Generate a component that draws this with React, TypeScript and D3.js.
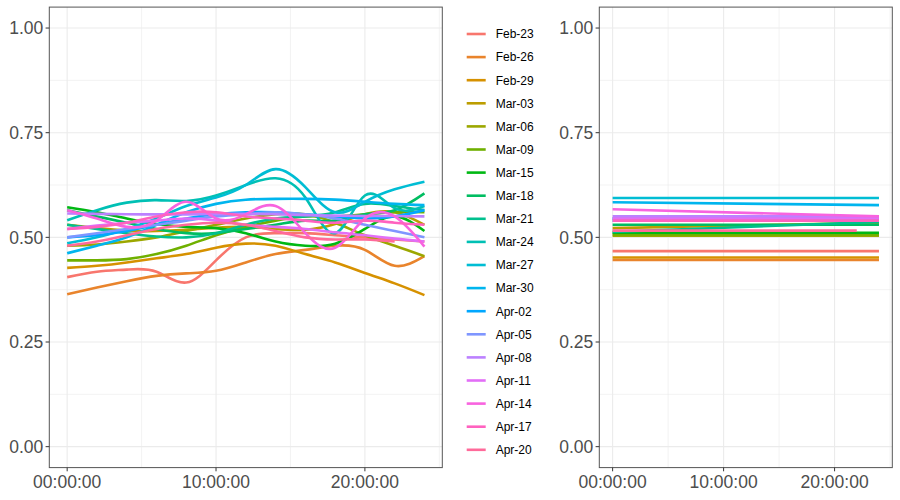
import React from 'react';
import * as d3 from 'd3';

// hours of day at which the smoothed curves were read
const hours = [0, 2, 4, 6, 8, 10, 12, 14, 16, 18, 20, 22, 24];

const dates = [
  "Feb-23", "Feb-26", "Feb-29", "Mar-03", "Mar-06", "Mar-09", "Mar-15", "Mar-18",
  "Mar-21", "Mar-24", "Mar-27", "Mar-30", "Apr-02", "Apr-05", "Apr-08", "Apr-11",
  "Apr-14", "Apr-17", "Apr-20"
];

// left panel: smoothed share by time of day
const feb23 = [0.405, 0.418, 0.423, 0.418, 0.392, 0.445, 0.50, 0.51, 0.51, 0.505, 0.50, 0.495, 0.49];
const feb26 = [0.364, 0.38, 0.395, 0.408, 0.414, 0.42, 0.44, 0.46, 0.47, 0.48, 0.47, 0.432, 0.455];
const feb29 = [0.427, 0.432, 0.44, 0.45, 0.46, 0.475, 0.485, 0.48, 0.46, 0.44, 0.415, 0.39, 0.362];
const mar03 = [0.53, 0.522, 0.516, 0.515, 0.518, 0.523, 0.525, 0.52, 0.518, 0.532, 0.555, 0.56, 0.53];
const mar06 = [0.48, 0.483, 0.49, 0.50, 0.515, 0.53, 0.545, 0.555, 0.555, 0.535, 0.505, 0.48, 0.455];
const mar09 = [0.445, 0.445, 0.448, 0.46, 0.48, 0.505, 0.525, 0.54, 0.55, 0.55, 0.555, 0.56, 0.56];
const mar15 = [0.572, 0.56, 0.545, 0.532, 0.525, 0.522, 0.51, 0.49, 0.48, 0.485, 0.52, 0.55, 0.515];
const mar18 = [0.565, 0.55, 0.535, 0.52, 0.51, 0.51, 0.52, 0.53, 0.54, 0.54, 0.555, 0.565, 0.605];
const mar21 = [0.53, 0.52, 0.51, 0.502, 0.50, 0.51, 0.53, 0.545, 0.55, 0.56, 0.58, 0.575, 0.565];
const mar24 = [0.541, 0.565, 0.583, 0.589, 0.587, 0.60, 0.625, 0.641, 0.595, 0.51, 0.60, 0.57, 0.575];
const mar27 = [0.486, 0.50, 0.52, 0.545, 0.575, 0.595, 0.625, 0.663, 0.62, 0.56, 0.585, 0.615, 0.633];
const mar30 = [0.462, 0.48, 0.50, 0.53, 0.56, 0.58, 0.59, 0.592, 0.592, 0.59, 0.585, 0.58, 0.577];
const apr02 = [0.50, 0.505, 0.515, 0.53, 0.545, 0.555, 0.56, 0.56, 0.555, 0.55, 0.545, 0.55, 0.565];
const apr05 = [0.50, 0.51, 0.52, 0.53, 0.54, 0.55, 0.555, 0.56, 0.555, 0.545, 0.53, 0.515, 0.50];
const apr08 = [0.557, 0.556, 0.555, 0.555, 0.555, 0.556, 0.556, 0.555, 0.553, 0.552, 0.551, 0.551, 0.55];
const apr11 = [0.52, 0.528, 0.535, 0.54, 0.545, 0.54, 0.53, 0.525, 0.52, 0.512, 0.505, 0.497, 0.49];
const apr14 = [0.565, 0.545, 0.525, 0.54, 0.585, 0.545, 0.555, 0.575, 0.51, 0.475, 0.545, 0.55, 0.478];
const apr17 = [0.52, 0.525, 0.535, 0.55, 0.56, 0.56, 0.55, 0.545, 0.54, 0.535, 0.54, 0.535, 0.53];
const apr20 = [0.48, 0.49, 0.505, 0.52, 0.53, 0.535, 0.53, 0.515, 0.50, 0.495, 0.495, 0.49];

const seriesValues = [
  feb23, feb26, feb29, mar03, mar06, mar09, mar15, mar18, mar21, mar24,
  mar27, mar30, apr02, apr05, apr08, apr11, apr14, apr17, apr20
];

// right panel: linear fit, value at start and end of each day
const fitStart = [0.467, 0.446, 0.452, 0.522, 0.504, 0.507, 0.511, 0.53, 0.513, 0.545,
  0.594, 0.584, 0.54, 0.545, 0.55, 0.545, 0.567, 0.54, 0.516];
const fitEnd = [0.467, 0.446, 0.452, 0.535, 0.504, 0.507, 0.511, 0.53, 0.537, 0.545,
  0.594, 0.577, 0.54, 0.545, 0.55, 0.545, 0.55, 0.54, 0.516];

const yTicks = [0, 0.25, 0.5, 0.75, 1];
const yMinor = [0.125, 0.375, 0.625, 0.875];
const xTicks = [0, 10, 20];
const xMinor = [5, 15, 25];

// ggplot-style hue palette (polar LUV, c=100, l=65)
function hueColor(h: number): string {
  const l = 65, c = 100;
  const Xn = 95.047, Yn = 100, Zn = 108.883;
  const Y = Yn * Math.pow((l + 16) / 116, 3);
  const den = Xn + 15 * Yn + 3 * Zn;
  const un = (4 * Xn) / den, vn = (9 * Yn) / den;
  const rad = (h * Math.PI) / 180;
  const up = (c * Math.cos(rad)) / (13 * l) + un;
  const vp = (c * Math.sin(rad)) / (13 * l) + vn;
  const X = (9 * Y * up) / (4 * vp) / 100;
  const Z = (Y * (12 - 3 * up - 20 * vp)) / (4 * vp) / 100;
  const Yy = Y / 100;
  const lin = [
    3.240479 * X - 1.53715 * Yy - 0.498535 * Z,
    -0.969256 * X + 1.875992 * Yy + 0.041556 * Z,
    0.055648 * X - 0.204043 * Yy + 1.057311 * Z
  ];
  const g = lin.map(v => {
    const s = v <= 0.0031308 ? 12.92 * v : 1.055 * Math.pow(v, 1 / 2.4) - 0.055;
    return Math.round(Math.max(0, Math.min(1, s)) * 255);
  });
  return d3.rgb(g[0], g[1], g[2]).formatHex();
}

const colors = dates.map((_, i) => hueColor(15 + (i * 360) / dates.length));

const font = "'Liberation Sans', Arial, Helvetica, sans-serif";
const fmtTime = (h: number) => `${String(h).padStart(2, "0")}:00:00`;

const y = d3.scaleLinear().domain([-0.05, 1.05]).range([467.6, 7.1]);

type PanelProps = { left: number; right: number; children: (x: d3.ScaleLinear<number, number>) => React.ReactNode };

const Panel: React.FC<PanelProps> = ({ left, right, children }) => {
  const x = d3.scaleLinear().domain([-1.2, 25.2]).range([left, right]);
  const [top, bottom] = [y.range()[1], y.range()[0]];
  return (
    <g>
      <rect x={left} y={top} width={right - left} height={bottom - top} fill="white" />
      {yMinor.map(v => (
        <line key={"ym" + v} x1={left} x2={right} y1={y(v)} y2={y(v)} stroke="#ebebeb" strokeWidth={0.6} />
      ))}
      {xMinor.map(v => (
        <line key={"xm" + v} x1={x(v)} x2={x(v)} y1={top} y2={bottom} stroke="#ebebeb" strokeWidth={0.6} />
      ))}
      {yTicks.map(v => (
        <line key={"yg" + v} x1={left} x2={right} y1={y(v)} y2={y(v)} stroke="#ebebeb" strokeWidth={1.1} />
      ))}
      {xTicks.map(v => (
        <line key={"xg" + v} x1={x(v)} x2={x(v)} y1={top} y2={bottom} stroke="#ebebeb" strokeWidth={1.1} />
      ))}
      {children(x)}
      <rect x={left} y={top} width={right - left} height={bottom - top} fill="none" stroke="#555" strokeWidth={1} />
      {yTicks.map(v => (
        <g key={"yt" + v}>
          <line x1={left - 3.7} x2={left} y1={y(v)} y2={y(v)} stroke="#333" strokeWidth={1} />
          <text x={left - 6} y={y(v) + 6.2} textAnchor="end" fontSize={17.5} fill="#4d4d4d" fontFamily={font}>
            {v.toFixed(2)}
          </text>
        </g>
      ))}
      {xTicks.map(v => (
        <g key={"xt" + v}>
          <line x1={x(v)} x2={x(v)} y1={bottom} y2={bottom + 3.7} stroke="#333" strokeWidth={1} />
          <text x={x(v)} y={488.3} textAnchor="middle" fontSize={17.5} fill="#4d4d4d" fontFamily={font}>
            {fmtTime(v)}
          </text>
        </g>
      ))}
    </g>
  );
};

const App: React.FC = () => {
  return (
    <svg width={900} height={500} style={{ position: "absolute", left: 0, top: 0, display: "block" }}>
      <rect width={900} height={500} fill="white" />
      <Panel left={49.3} right={442.3}>
        {x => {
          const line = d3.line<[number, number]>()
            .x(d => x(d[0]))
            .y(d => y(d[1]))
            .curve(d3.curveNatural);
          return seriesValues.map((vals, i) => (
            <path
              key={dates[i]}
              d={line(vals.map((v, j) => [hours[j], v] as [number, number])) || ""}
              fill="none"
              stroke={colors[i]}
              strokeWidth={2.6}
            />
          ));
        }}
      </Panel>
      <Panel left={599.3} right={892.3}>
        {x => dates.map((d, i) => {
          const last = hours[seriesValues[i].length - 1];
          return (
            <line
              key={d}
              x1={x(0)} x2={x(last)}
              y1={y(fitStart[i])} y2={y(fitEnd[i])}
              stroke={colors[i]}
              strokeWidth={2.6}
            />
          );
        })}
      </Panel>
      <g>
        {dates.map((d, i) => {
          const cy = 34 + i * 23.1;
          return (
            <g key={d}>
              <line x1={466.7} x2={485.7} y1={cy} y2={cy} stroke={colors[i]} strokeWidth={2.6} />
              <text x={495.7} y={cy + 4.3} fontSize={12} fill="black" fontFamily={font}>{d}</text>
            </g>
          );
        })}
      </g>
    </svg>
  );
};

export default App;
